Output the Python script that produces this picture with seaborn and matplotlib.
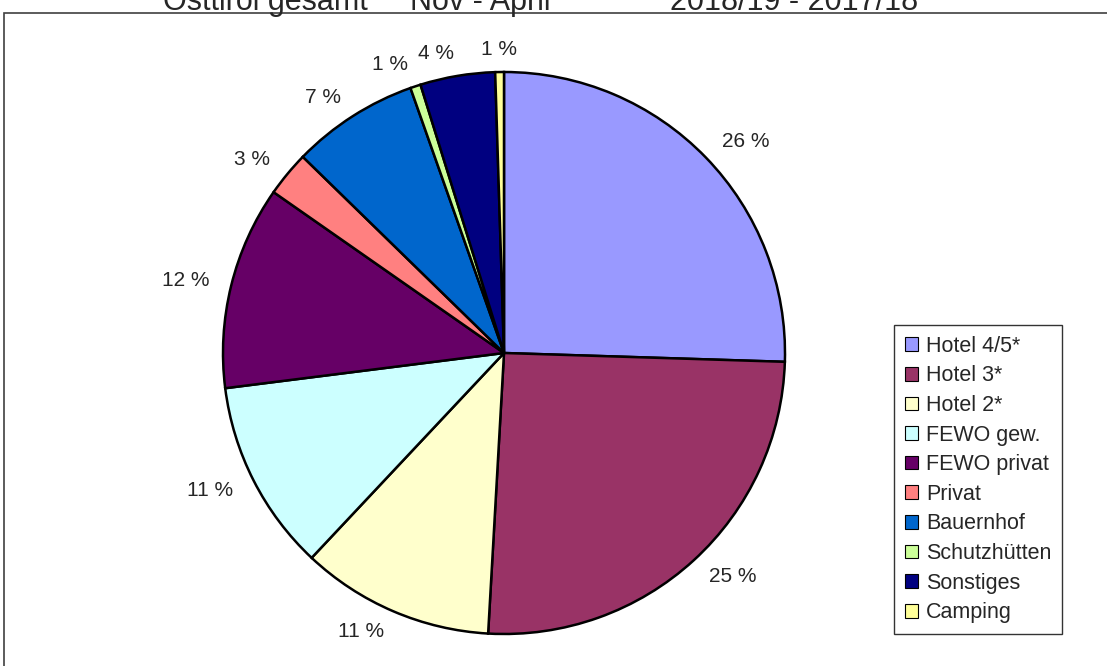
import matplotlib
matplotlib.use("Agg")
import matplotlib.pyplot as plt
import seaborn as sns
from matplotlib.patches import Rectangle

# data (share of overnight stays, %)
categories = ["Hotel 4/5*", "Hotel 3*", "Hotel 2*", "FEWO gew.", "FEWO privat",
              "Privat", "Bauernhof", "Schutzhütten", "Sonstiges", "Camping"]
shares = [25.5, 25.4, 11.1, 11.0, 11.7, 2.6, 7.3, 0.6, 4.3, 0.5]
pct_labels = ["26 %", "25 %", "11 %", "11 %", "12 %", "3 %", "7 %", "1 %", "4 %", "1 %"]
colors = ["#9999FF", "#993366", "#FFFFCC", "#CCFFFF", "#660066",
          "#FF8080", "#0066CC", "#CCFF99", "#000080", "#FFFF99"]
title_parts = ["Osttirol gesamt", "Nov - April", "2018/19 - 2017/18"]

sns.set_theme(style="white")
plt.rcParams['font.family'] = ['Liberation Sans', 'DejaVu Sans']

W, H = 1107, 666
fig = plt.figure(figsize=(W / 100, H / 100), dpi=100)

# outer chart frame (bottom and right run off the picture)
fig.add_artist(Rectangle((4 / W, -0.1), 1.2, 1.1 - 13 / H, transform=fig.transFigure,
                         fill=False, ec="#404040", lw=1.2))

# title, mostly cut off at the top
for txt, x in zip(title_parts, [163, 410, 670]):
    fig.text(x / W, 1 - 10 / H, txt, fontsize=22, ha="left", va="baseline")

# pie axes: centre (504, 353), radius 281 px
cx, cy, r = 504, 353, 281
ax = fig.add_axes([(cx - r) / W, (H - cy - r) / H, 2 * r / W, 2 * r / H])
pal = sns.color_palette(colors)
wedges, texts = ax.pie(shares, labels=pct_labels, colors=pal, startangle=90,
                       counterclock=False, labeldistance=1.08,
                       wedgeprops=dict(edgecolor="black", linewidth=1.8),
                       textprops=dict(fontsize=15))
for t in texts:
    if abs(t.get_position()[0]) < 0.05:
        t.set_ha("center")
ax.set_xlim(-1, 1)
ax.set_ylim(-1, 1)
ax.set_aspect("equal")
ax.axis("off")

leg = fig.legend(wedges, categories, loc="upper left",
                 bbox_to_anchor=(894 / W, 1 - 325 / H), fontsize=15.5,
                 frameon=True, fancybox=False, edgecolor="black",
                 handlelength=0.6, handleheight=0.6, handletextpad=0.4,
                 labelspacing=0.4, borderpad=0.5, borderaxespad=0)
leg.get_frame().set_linewidth(1.0)
for h in leg.legend_handles:
    h.set_linewidth(0.8)

fig.savefig("out.png", dpi=100)
